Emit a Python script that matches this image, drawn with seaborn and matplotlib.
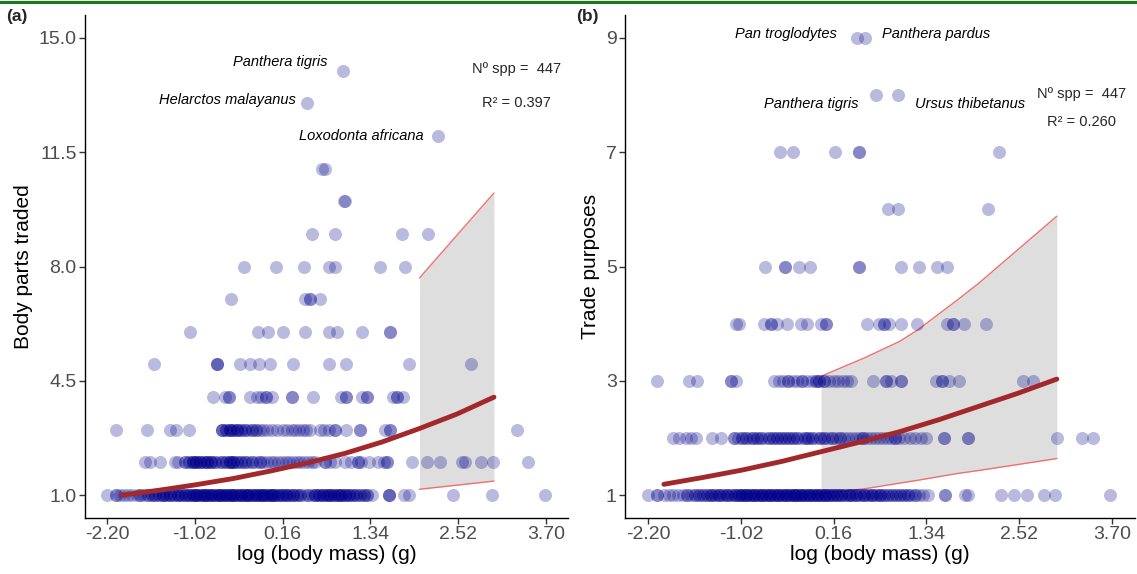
import numpy as np
import pandas as pd
import matplotlib
matplotlib.use('Agg')
import matplotlib.pyplot as plt
from matplotlib.lines import Line2D
import seaborn as sns

sns.set_theme(style='ticks')
plt.rcParams['font.family'] = ['Liberation Sans', 'DejaVu Sans']

# ---- panel (a): body parts traded, x = log body mass, n = overlapping species ----
a1_x = [-2.20, -2.08, -2.03, -1.97, -1.92, -1.86, -1.80, -1.75, -1.70, -1.65,
        -1.60, -1.55, -1.50, -1.45, -1.40, -1.35, -1.30, -1.25, -1.20, -1.15,
        -1.10, -1.05, -1.00, -0.95, -0.90, -0.85, -0.80, -0.75, -0.70, -0.65,
        -0.60, -0.55, -0.50, -0.45, -0.40, -0.35, -0.30, -0.25, -0.20, -0.15,
        -0.10, -0.05, 0.00, 0.05, 0.10, 0.15, 0.20, 0.25, 0.30, 0.35,
        0.40, 0.45, 0.50, 0.55, 0.60, 0.65, 0.70, 0.75, 0.80, 0.85,
        0.90, 0.95, 1.00, 1.05, 1.10, 1.15, 1.20, 1.25, 1.30, 1.36,
        1.59, 1.79, 1.86, 2.45, 2.97, 3.69]
a1_n = [1, 2, 1, 1, 1, 1, 1, 2, 1, 2,
        2, 2, 2, 3, 2, 3, 2, 3, 2, 3,
        3, 3, 4, 3, 4, 3, 4, 3, 4, 3,
        4, 3, 4, 3, 4, 3, 4, 3, 4, 3,
        4, 3, 4, 3, 3, 3, 3, 2, 3, 2,
        2, 1, 2, 1, 3, 3, 3, 3, 3, 3,
        3, 3, 3, 3, 2, 2, 2, 2, 2, 1,
        3, 1, 1, 1, 1, 1]
a2_x = [-1.69, -1.62, -1.49, -1.29, -1.24, -1.15, -1.10, -1.05, -1.00, -0.95,
        -0.90, -0.85, -0.80, -0.75, -0.70, -0.65, -0.60, -0.55, -0.50, -0.45,
        -0.40, -0.35, -0.30, -0.25, -0.20, -0.15, -0.10, -0.05, 0.00, 0.05,
        0.10, 0.15, 0.20, 0.25, 0.30, 0.35, 0.40, 0.45, 0.50, 0.55,
        0.60, 0.73, 0.80, 0.86, 1.00, 1.08, 1.17, 1.22, 1.32, 1.44,
        1.52, 1.56, 1.90, 2.10, 2.28, 2.57, 2.61, 2.83, 2.99, 3.46]
a2_n = [1, 1, 1, 1, 1, 2, 2, 3, 3, 3,
        2, 3, 3, 2, 1, 2, 2, 3, 3, 2,
        2, 2, 1, 2, 1, 2, 1, 1, 1, 1,
        1, 1, 1, 1, 1, 1, 1, 1, 1, 1,
        1, 2, 1, 1, 1, 1, 2, 1, 1, 1,
        1, 2, 1, 1, 1, 1, 1, 1, 1, 1]
a3_x = [-2.08, -1.66, -1.35, -1.27, -1.10, -0.65, -0.60, -0.55, -0.50, -0.45,
        -0.40, -0.35, -0.30, -0.25, -0.20, -0.15, -0.10, -0.05, 0.02, 0.08,
        0.16, 0.22, 0.28, 0.33, 0.38, 0.43, 0.48, 0.53, 0.66, 0.72,
        0.78, 0.86, 1.01, 1.20, 1.54, 1.60, 3.31]
a3_n = [1, 1, 1, 1, 1, 3, 2, 3, 2, 3,
        2, 2, 1, 2, 2, 1, 1, 1, 1, 1,
        1, 1, 1, 1, 1, 1, 1, 1, 1, 1,
        1, 2, 1, 2, 1, 2, 1]
a4_x = [-0.78, -0.62, -0.56, -0.28, -0.18, -0.13, -0.06, 0.02, 0.29, 0.57,
        0.95, 1.01, 1.23, 1.29, 1.64, 1.70, 1.78]
a4_n = [1, 1, 2, 1, 1, 1, 2, 1, 2, 1,
        1, 2, 1, 2, 1, 2, 1]
a5_x = [-1.57, -0.72, -0.41, -0.28, -0.16, -0.01, 0.30, 0.78, 1.01, 1.86, 2.69]
a5_n = [1, 3, 1, 1, 1, 1, 1, 1, 1, 1, 1]
a6_x = [-1.08, -0.17, -0.04, 0.17, 0.46, 0.78, 0.89, 1.23, 1.60]
a6_n = [1, 1, 1, 1, 1, 1, 1, 1, 2]
a7_x = [-0.53, 0.46, 0.53, 0.66]
a7_n = [1, 1, 2, 1]
a8_x = [-0.36, 0.07, 0.45, 0.78, 0.86, 1.47, 1.81]
a9_x = [0.56, 0.86, 1.77, 2.11]
a10_x = [0.98, 1.00]
a11_x = [0.69, 0.73]
a12_x = [2.25]
a13_x = [0.49]
a14_x = [0.97]

a_fit_x = [-2.0, -1.5, -1.0, -0.5, 0.0, 0.5, 1.0, 1.5, 2.0, 2.5, 3.0]
a_fit_y = [1.00, 1.15, 1.32, 1.51, 1.74, 1.99, 2.28, 2.63, 3.04, 3.48, 4.00]
a_band_x = [2.0, 3.0]
a_band_lo = [1.18, 1.43]
a_band_hi = [7.65, 10.25]

# ---- panel (b): trade purposes ----
b1_x = [-2.20, -2.09, -2.00, -1.94, -1.88, -1.82, -1.76, -1.70, -1.65, -1.60,
        -1.55, -1.50, -1.45, -1.40, -1.35, -1.30, -1.25, -1.20, -1.15, -1.10,
        -1.05, -1.00, -0.95, -0.90, -0.85, -0.80, -0.75, -0.70, -0.65, -0.60,
        -0.55, -0.50, -0.45, -0.40, -0.35, -0.30, -0.25, -0.20, -0.15, -0.10,
        -0.05, 0.00, 0.05, 0.10, 0.15, 0.20, 0.25, 0.30, 0.35, 0.40,
        0.45, 0.50, 0.55, 0.60, 0.65, 0.70, 0.75, 0.80, 0.85, 0.90,
        0.95, 1.00, 1.05, 1.10, 1.15, 1.20, 1.25, 1.30, 1.36, 1.58,
        1.83, 1.87, 2.29, 2.46, 2.62, 2.84, 2.98, 3.68]
b1_n = [1, 2, 1, 1, 1, 1, 1, 2, 1, 2,
        2, 2, 2, 3, 2, 3, 2, 3, 2, 3,
        3, 3, 4, 3, 4, 3, 4, 3, 4, 3,
        4, 3, 4, 3, 4, 3, 4, 3, 4, 3,
        4, 3, 4, 3, 3, 3, 3, 2, 3, 2,
        3, 2, 3, 2, 3, 2, 3, 2, 2, 2,
        2, 2, 2, 2, 1, 2, 1, 1, 1, 2,
        1, 1, 1, 1, 1, 1, 1, 1]
b2_x = [-1.89, -1.81, -1.72, -1.65, -1.59, -1.39, -1.27, -1.11, -1.06, -1.01,
        -0.96, -0.91, -0.86, -0.81, -0.76, -0.71, -0.66, -0.61, -0.56, -0.51,
        -0.46, -0.41, -0.36, -0.31, -0.26, -0.21, -0.16, -0.11, -0.06, -0.01,
        0.04, 0.09, 0.14, 0.19, 0.24, 0.29, 0.34, 0.39, 0.44, 0.49,
        0.54, 0.59, 0.64, 0.69, 0.74, 0.79, 0.84, 0.89, 0.94, 0.99,
        1.06, 1.13, 1.20, 1.27, 1.33, 1.57, 1.87, 3.00, 3.32, 3.46]
b2_n = [1, 1, 1, 1, 1, 1, 1, 2, 1, 2,
        2, 1, 2, 2, 2, 1, 2, 2, 2, 2,
        2, 2, 2, 2, 1, 2, 2, 2, 1, 2,
        2, 1, 2, 1, 2, 1, 1, 1, 1, 1,
        2, 1, 1, 1, 1, 1, 1, 1, 2, 1,
        1, 1, 1, 1, 1, 2, 2, 1, 1, 1]
b3_x = [-2.09, -1.68, -1.58, -1.14, -1.08, -0.60, -0.54, -0.48, -0.42, -0.36,
        -0.30, -0.24, -0.18, -0.12, -0.07, -0.02, 0.04, 0.10, 0.16, 0.22,
        0.28, 0.33, 0.38, 0.66, 0.83, 0.89, 1.02, 1.46, 1.54, 1.63,
        1.76, 2.57, 2.70]
b3_n = [1, 1, 1, 2, 1, 1, 1, 1, 2, 1,
        1, 2, 1, 1, 2, 2, 2, 1, 1, 1,
        1, 1, 1, 1, 2, 1, 2, 1, 2, 1,
        1, 1, 1]
b4_x = [-1.08, -1.04, -0.72, -0.64, -0.56, -0.43, -0.25, -0.18, 0.00, 0.06,
        0.59, 0.74, 0.80, 0.87, 1.02, 1.22, 1.60, 1.68, 1.82, 2.10]
b4_n = [1, 1, 1, 2, 1, 1, 1, 1, 1, 2,
        1, 1, 2, 1, 1, 1, 1, 2, 1, 1]
b5_x = [-0.71, -0.46, -0.28, -0.14, 0.48, 1.02, 1.24, 1.48, 1.60]
b5_n = [1, 2, 1, 1, 2, 1, 1, 1, 1]
b6_x = [0.85, 0.98, 2.13]
b7_x = [-0.52, -0.36, 0.18, 0.48, 0.48, 2.27]
b8_x = [0.70, 0.98]
b9_x = [0.46, 0.56]

b_fit_x = [-2.0, -1.5, -1.0, -0.5, 0.0, 0.5, 1.0, 1.5, 2.0, 2.5, 3.0]
b_fit_y = [1.19, 1.31, 1.44, 1.59, 1.76, 1.93, 2.11, 2.32, 2.55, 2.78, 3.03]
b_band_x = [0.0, 0.55, 1.0, 1.23, 1.74, 2.0, 3.0]
b_band_hi = [3.08, 3.40, 3.69, 3.89, 4.42, 4.70, 5.88]
b_band_lo = [1.03, 1.11, 1.21, 1.26, 1.38, 1.43, 1.64]

x_ticks = [-2.20, -1.02, 0.16, 1.34, 2.52, 3.70]
a_yticks = [1.0, 4.5, 8.0, 11.5, 15.0]
b_yticks = [1, 3, 5, 7, 9]


def build(rows):
    parts = []
    for yv, xs, ns in rows:
        parts.append(pd.DataFrame({'mass': np.repeat(xs, ns), 'value': yv}))
    return pd.concat(parts, ignore_index=True)


df_a = build([(1, a1_x, a1_n), (2, a2_x, a2_n), (3, a3_x, a3_n), (4, a4_x, a4_n),
              (5, a5_x, a5_n), (6, a6_x, a6_n), (7, a7_x, a7_n), (8, a8_x, 1),
              (9, a9_x, 1), (10, a10_x, 1), (11, a11_x, 1), (12, a12_x, 1),
              (13, a13_x, 1), (14, a14_x, 1)])
df_b = build([(1, b1_x, b1_n), (2, b2_x, b2_n), (3, b3_x, b3_n), (4, b4_x, b4_n),
              (5, b5_x, b5_n), (6, b6_x, 1), (7, b7_x, 1), (8, b8_x, 1), (9, b9_x, 1)])

W, H = 1137, 574
fig = plt.figure(figsize=(W / 100, H / 100), dpi=100)
ax_a = fig.add_axes([85 / W, 56 / H, 483 / W, 503 / H])
ax_b = fig.add_axes([625 / W, 56 / H, 510 / W, 503 / H])

PT_COL = '#00008B'
FIT_COL = '#A3282B'
BAND_COL = '#DEDEDE'
EDGE_COL = '#F07070'


def draw(ax, df, fx, fy, bx, blo, bhi, yticks, ylim, ylabel, yfmt):
    ax.fill_between(bx, blo, bhi, color=BAND_COL, lw=0, zorder=1)
    ax.plot(bx, bhi, color=EDGE_COL, lw=1.0, zorder=1.5)
    ax.plot(bx, blo, color=EDGE_COL, lw=1.0, zorder=1.5)
    sns.scatterplot(data=df, x='mass', y='value', color=PT_COL, alpha=0.27,
                    s=88, linewidth=0, ax=ax, zorder=2)
    sns.lineplot(x=fx, y=fy, color=FIT_COL, lw=3.5, estimator=None, ax=ax, zorder=4)
    ax.set_xlim(-2.495, 3.995)
    ax.set_ylim(*ylim)
    ax.set_xticks(x_ticks)
    ax.set_xticklabels([f'{v:.2f}' for v in x_ticks])
    ax.set_yticks(yticks)
    ax.set_yticklabels([yfmt.format(v) for v in yticks])
    ax.tick_params(length=4, width=1, color='#333333', labelsize=14,
                   labelcolor='#4D4D4D', pad=2)
    for s in ['top', 'right']:
        ax.spines[s].set_visible(False)
    for s in ['left', 'bottom']:
        ax.spines[s].set_color('black')
        ax.spines[s].set_linewidth(1.0)
    ax.set_xlabel('log (body mass) (g)', fontsize=15, color='black', labelpad=1)
    ax.set_ylabel(ylabel, fontsize=15, color='black', labelpad=4)


draw(ax_a, df_a, a_fit_x, a_fit_y, a_band_x, a_band_lo, a_band_hi,
     a_yticks, (0.3, 15.7), 'Body parts traded', '{:.1f}')
draw(ax_b, df_b, b_fit_x, b_fit_y, b_band_x, b_band_lo, b_band_hi,
     b_yticks, (0.6, 9.4), 'Trade purposes', '{:d}')

it = dict(fontsize=10.5, fontstyle='italic', va='center', color='black')
ax_a.text(0.76, 14.25, 'Panthera tigris', ha='right', **it)
ax_a.text(0.34, 13.09, 'Helarctos malayanus', ha='right', **it)
ax_a.text(2.06, 12.01, 'Loxodonta africana', ha='right', **it)
ax_a.text(3.30, 14.04, 'Nº spp =  447', ha='center', va='center', fontsize=10.5)
ax_a.text(3.30, 13.02, 'R² = 0.397', ha='center', va='center', fontsize=10.5)

ax_b.text(0.20, 9.07, 'Pan troglodytes', ha='right', **it)
ax_b.text(0.78, 9.07, 'Panthera pardus', ha='left', **it)
ax_b.text(0.48, 7.84, 'Panthera tigris', ha='right', **it)
ax_b.text(1.20, 7.84, 'Ursus thibetanus', ha='left', **it)
ax_b.text(3.32, 8.02, 'Nº spp =  447', ha='center', va='center', fontsize=10.5)
ax_b.text(3.32, 7.53, 'R² = 0.260', ha='center', va='center', fontsize=10.5)

fig.text(6 / W, 1 - 17 / H, '(a)', fontsize=12.5, fontweight='bold', va='center')
fig.text(576 / W, 1 - 17 / H, '(b)', fontsize=12.5, fontweight='bold', va='center')
fig.add_artist(Line2D([0, 1], [1 - 2 / H, 1 - 2 / H], transform=fig.transFigure,
                      color='#1B7A1B', lw=2.2))

fig.savefig('out.png', dpi=100)
